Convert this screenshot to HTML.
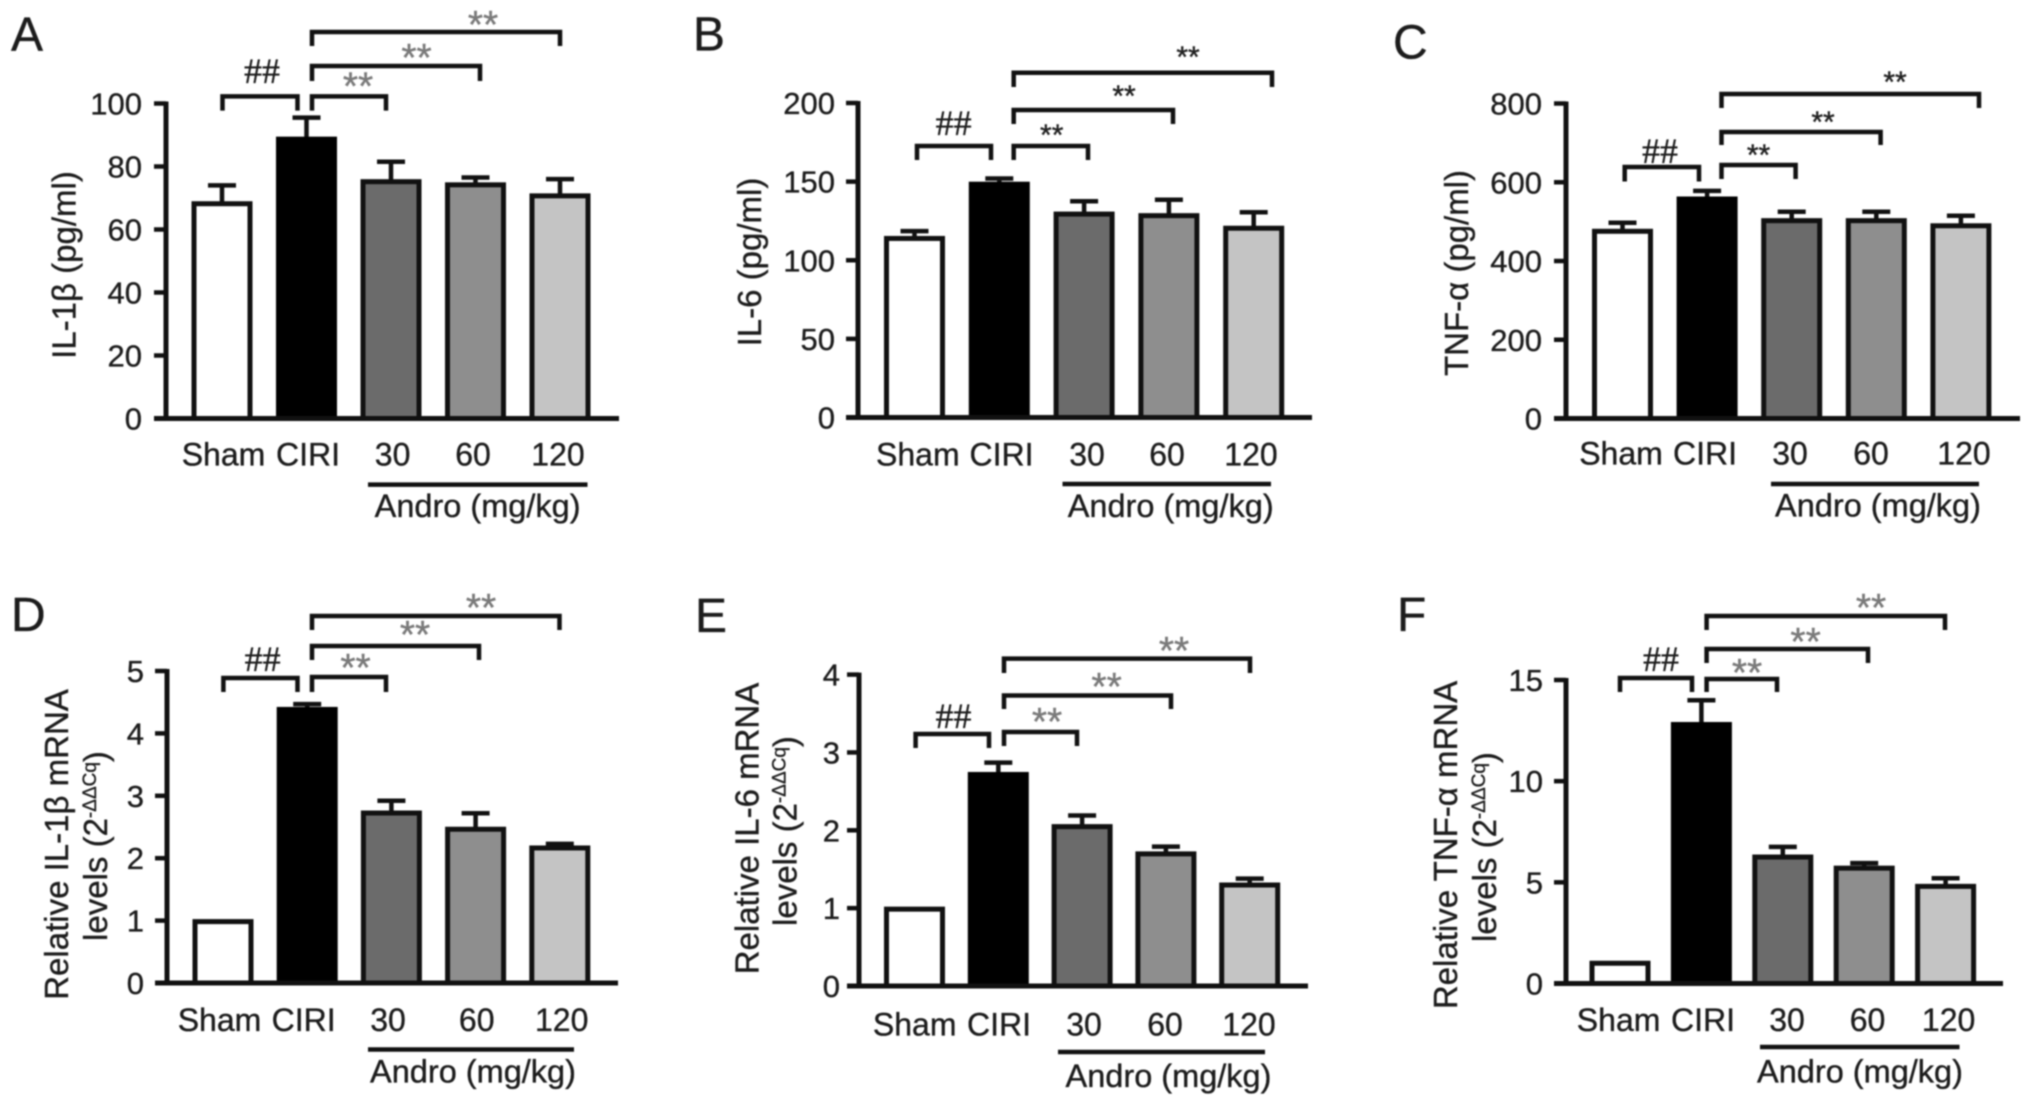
<!DOCTYPE html>
<html lang="en">
<head>
<meta charset="utf-8">
<title>Cytokine levels across treatment groups</title>
<style>
html,body{margin:0;padding:0;background:#fff;}
#figure{display:block;width:2032px;height:1106px;filter:blur(0.7px);}
text{font-family:"Liberation Sans",sans-serif;fill:#1c1c1c;stroke:#1c1c1c;stroke-width:0.35px;}
</style>
</head>
<body>
<svg id="figure" xmlns="http://www.w3.org/2000/svg" width="2032" height="1106" viewBox="0 0 2032 1106"></svg>
<script>
const categories = ['Sham', 'CIRI', '30', '60', '120'];
const groupLabel = 'Andro (mg/kg)';
const barFills = ['#ffffff', '#000000', '#6b6b6b', '#8e8e8e', '#c4c4c4'];

const valuesA = [68.5, 89, 75.5, 74.5, 71];
const errorTopsA = [74, 95.5, 81.5, 76.5, 76];
const ticksA = [0, 20, 40, 60, 80, 100];

const valuesB = [114.5, 149, 130, 129, 121];
const errorTopsB = [118.5, 152, 137.5, 138.5, 130.5];
const ticksB = [0, 50, 100, 150, 200];

const valuesC = [478, 560, 505, 505, 492];
const errorTopsC = [497, 578, 525, 525, 515];
const ticksC = [0, 200, 400, 600, 800];

const valuesD = [1, 4.4, 2.74, 2.48, 2.18];
const errorTopsD = [1, 4.47, 2.92, 2.72, 2.23];
const ticksD = [0, 1, 2, 3, 4, 5];

const valuesE = [1, 2.73, 2.06, 1.71, 1.31];
const errorTopsE = [1, 2.87, 2.19, 1.79, 1.38];
const ticksE = [0, 1, 2, 3, 4];

const valuesF = [1.05, 12.85, 6.3, 5.75, 4.85];
const errorTopsF = [1.05, 14, 6.75, 5.95, 5.2];
const ticksF = [0, 5, 10, 15];

const panelA = {
  id: 'a', letter: 'A', letterX: 13, letterY: 50.7,
  values: valuesA, tops: errorTopsA, ticks: ticksA,
  spine: 168, axisEnd: 621, y0: 418.5, yTop: 103.5, first: 224, step: 84.5, tickRight: 144,
  title: ['IL-1β (pg/ml)'], titleX: [77.6], titleY: [265],
  labelX: [225.5, 310, 394.6, 475, 560], labelY: 465.5,
  rule: [370, 589.5, 484.6], groupX: 479.6, groupY: 517,
  hash: [224.5, 299.5, 96.4, 110.6, 264, 73],
  starStyle: 'gray',
  brackets: [
    [314, 388, 96.4, 110.6, 360, 81.5],
    [314, 482, 66, 81, 418.5, 53],
    [314, 562, 32, 46, 485, 20]
  ]
};
const panelB = {
  id: 'b', letter: 'B', letterX: 695, letterY: 50.7,
  values: valuesB, tops: errorTopsB, ticks: ticksB,
  spine: 860, axisEnd: 1314, y0: 417.5, yTop: 103, first: 916.5, step: 84.8, tickRight: 837,
  title: ['IL-6 (pg/ml)'], titleX: [763], titleY: [262],
  labelX: [919.8, 1003.5, 1089, 1169, 1253], labelY: 465.5,
  rule: [1064.5, 1273, 484], groupX: 1172.7, groupY: 517,
  hash: [919, 993, 146, 160, 955.6, 125],
  starStyle: 'dark',
  brackets: [
    [1015.7, 1090, 146, 160, 1053.7, 131],
    [1015.7, 1175, 110, 124, 1126, 92],
    [1015.7, 1274, 72.7, 87, 1190, 53]
  ]
};
const panelC = {
  id: 'c', letter: 'C', letterX: 1395, letterY: 58.5,
  values: valuesC, tops: errorTopsC, ticks: ticksC,
  spine: 1568, axisEnd: 2022, y0: 418.5, yTop: 103.5, first: 1624.5, step: 84.6, tickRight: 1544,
  title: ['TNF-α (pg/ml)'], titleX: [1470], titleY: [273],
  labelX: [1623, 1707, 1792, 1873, 1966], labelY: 464.5,
  rule: [1773, 1981, 484], groupX: 1880, groupY: 516.5,
  hash: [1626.7, 1701, 167, 181.5, 1662, 153],
  starStyle: 'dark',
  brackets: [
    [1723.5, 1797.6, 165, 179, 1760.5, 151],
    [1723.5, 1882.6, 132, 145, 1825, 118],
    [1723.5, 1981, 94, 108, 1897, 78]
  ]
};
const panelD = {
  id: 'd', letter: 'D', letterX: 13, letterY: 631,
  values: valuesD, tops: errorTopsD, ticks: ticksD,
  spine: 169, axisEnd: 620, y0: 983, yTop: 671, first: 225, step: 84.2, tickRight: 146,
  title: ['Relative IL-1β mRNA', 'levels (2'], titleX: [70, 109], titleY: [844.5, 846],
  labelX: [221.5, 305.6, 390, 478.7, 563.7], labelY: 1031,
  rule: [370, 576, 1049.5], groupX: 475, groupY: 1082.7,
  hash: [225.4, 299.5, 678, 692, 264.6, 661],
  starStyle: 'gray',
  brackets: [
    [314, 388, 677, 692, 357.5, 663],
    [314, 481, 646, 660, 417, 630],
    [314, 561.5, 616, 630, 483, 603]
  ]
};
const panelE = {
  id: 'e', letter: 'E', letterX: 697, letterY: 632,
  values: valuesE, tops: errorTopsE, ticks: ticksE,
  spine: 861, axisEnd: 1310, y0: 986, yTop: 674.6, first: 916.5, step: 83.8, tickRight: 842,
  title: ['Relative IL-6 mRNA', 'levels (2'], titleX: [760.7, 798.6], titleY: [828.5, 831],
  labelX: [916.7, 1001, 1086, 1167, 1251], labelY: 1035.5,
  rule: [1060, 1267, 1052], groupX: 1170.5, groupY: 1087,
  hash: [917.6, 991, 734, 748, 955.5, 718],
  starStyle: 'gray',
  brackets: [
    [1006, 1079, 732, 746, 1049, 717],
    [1006, 1173, 695.5, 709, 1108.6, 682],
    [1006, 1252, 658.6, 673, 1176, 646]
  ]
};
const panelF = {
  id: 'f', letter: 'F', letterX: 1399, letterY: 631,
  values: valuesF, tops: errorTopsF, ticks: ticksF,
  spine: 1568, axisEnd: 2005, y0: 983.5, yTop: 680, first: 1622, step: 81.4, tickRight: 1545,
  title: ['Relative TNF-α mRNA', 'levels (2'], titleX: [1459, 1498], titleY: [845, 847],
  labelX: [1620.6, 1705, 1789, 1869.5, 1950.6], labelY: 1031,
  rule: [1762, 1961.5, 1047], groupX: 1862, groupY: 1082.7,
  hash: [1622, 1694, 678, 692, 1663, 661],
  starStyle: 'gray',
  brackets: [
    [1708.6, 1779, 679, 692, 1749, 668],
    [1708.6, 1870, 649, 663, 1807.6, 637],
    [1708.6, 1947, 616, 630, 1873, 603]
  ]
};
const panels = [panelA, panelB, panelC, panelD, panelE, panelF];

const NS = 'http://www.w3.org/2000/svg';
const root = document.getElementById('figure');
const stage = document.createElementNS(NS, 'g');
stage.setAttribute('transform', 'translate(-2 0)');
root.appendChild(stage);

function make(tag, attrs, parent) {
  const el = document.createElementNS(NS, tag);
  for (const key in attrs) el.setAttribute(key, attrs[key]);
  parent.appendChild(el);
  return el;
}

function drawPanel(p) {
  const g = make('g', {}, stage);
  
  

  const maxTick = p.ticks[p.ticks.length - 1];
  const yScale = function (v) { return p.y0 - (v / maxTick) * (p.y0 - p.yTop); };
  const xScale = function (i) { return p.first + i * p.step; };

  const letter = make('text', { x: p.letterX, y: p.letterY, 'font-size': 48 }, g);
  letter.textContent = p.letter;
  
  

  p.values.forEach(function (v, i) {
    const cx = xScale(i);
    const top = yScale(p.tops[i]);
    const barTop = yScale(v) + 1;
    if (p.tops[i] > v) {
      const stem = make('line', { x1: cx, x2: cx, y1: top, y2: barTop, stroke: '#111', 'stroke-width': 4.5 }, g);
      
      
      const cap = make('line', { x1: cx - 14, x2: cx + 14, y1: top, y2: top, stroke: '#111', 'stroke-width': 4.5 }, g);
      
      
    }
    const bar = make('rect', { x: cx - 28, y: barTop, width: 56, height: p.y0 - barTop, fill: barFills[i], stroke: i === 1 ? '#000' : '#111', 'stroke-width': 5 }, g);
    
    
  });

  const spine = make('line', { x1: p.spine, x2: p.spine, y1: p.yTop - 2, y2: p.y0 + 2, stroke: '#111', 'stroke-width': 5 }, g);
  
  
  const base = make('line', { x1: p.spine - 12, x2: p.axisEnd, y1: p.y0, y2: p.y0, stroke: '#111', 'stroke-width': 5 }, g);
  
  

  p.ticks.forEach(function (t) {
    const y = yScale(t);
    const tick = make('line', { x1: p.spine - 12, x2: p.spine, y1: y, y2: y, stroke: '#111', 'stroke-width': 4.5 }, g);
    
    
    const label = make('text', { x: p.tickRight, y: y + 11, 'font-size': 31, 'text-anchor': 'end' }, g);
    label.textContent = String(t);
    
    
  });

  p.title.forEach(function (line, i) {
    const x = p.titleX[i];
    const y = p.titleY[i];
    const title = make('text', { x: x, y: y, 'font-size': 33, 'text-anchor': 'middle', transform: 'rotate(-90 ' + x + ' ' + y + ')' }, g);
    
    
    title.appendChild(document.createTextNode(line));
    if (i === 1) {
      const sup = make('tspan', { dy: -11, 'font-size': 19 }, title);
      sup.textContent = '-ΔΔCq';
      const close = make('tspan', { dy: 11 }, title);
      close.textContent = ')';
    }
  });

  categories.forEach(function (c, i) {
    const label = make('text', { x: p.labelX[i], y: p.labelY, 'font-size': 32, 'text-anchor': 'middle' }, g);
    label.textContent = c;
    
    
  });

  const rule = make('line', { x1: p.rule[0], x2: p.rule[1], y1: p.rule[2], y2: p.rule[2], stroke: '#111', 'stroke-width': 4.5 }, g);
  
  
  const group = make('text', { x: p.groupX, y: p.groupY, 'font-size': 32.5, 'text-anchor': 'middle' }, g);
  group.textContent = groupLabel;
  
  

  function bracket(b, name) {
    const path = make('path', { d: 'M' + b[0] + ' ' + b[3] + 'V' + b[2] + 'H' + b[1] + 'V' + b[3], fill: 'none', stroke: '#111', 'stroke-width': 4.5 }, g);
    
    
  }

  bracket(p.hash, 'hash-bracket-' + p.id);
  const hash = make('text', { x: p.hash[4], y: p.hash[5] + 10, 'font-size': 36, 'text-anchor': 'middle' }, g);
  hash.style.fontFamily = '"Liberation Serif", serif';
  hash.textContent = '##';
  
  

  const starSize = p.starStyle === 'gray' ? 39 : 30;
  const starFill = p.starStyle === 'gray' ? '#7a7a7a' : '#222';
  p.brackets.forEach(function (b, i) {
    bracket(b, 'star-bracket-' + p.id + '-' + i);
    const star = make('text', { x: b[4], y: b[5] + starSize * 0.46, 'font-size': starSize, 'text-anchor': 'middle' }, g);
    star.style.fill = starFill;
    star.style.stroke = starFill;
    star.style.strokeWidth = '0.4px';
    star.textContent = '**';
    
    
  });
}

panels.forEach(drawPanel);
</script>
</body>
</html>
